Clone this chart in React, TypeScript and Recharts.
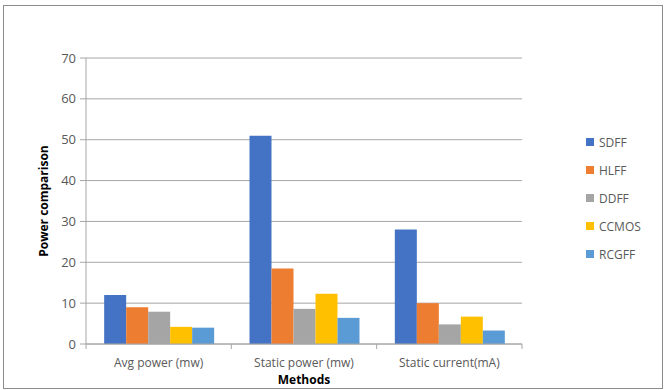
import React from 'react';
import { BarChart, Bar, XAxis, YAxis, CartesianGrid, Label } from 'recharts';

const methods = ['Avg power (mw)', 'Static power (mw)', 'Static current(mA)'];
const sdff = [12, 51, 28];
const hlff = [9, 18.5, 10];
const ddff = [7.9, 8.6, 4.8];
const ccmos = [4.2, 12.3, 6.7];
const rcgff = [4, 6.4, 3.3];
const yTicks = [0, 10, 20, 30, 40, 50, 60, 70];

const seriesList = [
  { key: 'SDFF', values: sdff, color: '#4472C4' },
  { key: 'HLFF', values: hlff, color: '#ED7D31' },
  { key: 'DDFF', values: ddff, color: '#A5A5A5' },
  { key: 'CCMOS', values: ccmos, color: '#FFC000' },
  { key: 'RCGFF', values: rcgff, color: '#5B9BD5' },
];

const data = methods.map((m, i) => {
  const row: any = { name: m };
  seriesList.forEach(s => { row[s.key] = s.values[i]; });
  return row;
});

const FONT = '"Open Sans", "Noto Sans", sans-serif';
const TEXT = '#595959';
const AXIS = '#a6a6a6';

const W = 667;
const H = 390;
const M = { top: 58, right: 145, left: 46, bottom: 16 };
const BAND = (W - M.left - 40 - M.right) / methods.length;

// Excel style: tick marks sit between the categories, not at their centres
function CategoryTick(props: any) {
  const { x, y, payload, index } = props;
  return (
    <g>
      <line x1={x - BAND / 2} x2={x - BAND / 2} y1={y - 8} y2={y - 3} stroke={AXIS} />
      {index === methods.length - 1 && (
        <line x1={x + BAND / 2} x2={x + BAND / 2} y1={y - 8} y2={y - 3} stroke={AXIS} />
      )}
      <text x={x} y={y + 15} textAnchor="middle" fill={TEXT} fontSize={12} fontFamily={FONT}>
        {payload.value}
      </text>
    </g>
  );
}

function SideLegend() {
  return (
    <div style={{ position: 'absolute', left: 586, top: 128, fontFamily: FONT, fontSize: 12, color: TEXT }}>
      {seriesList.map(s => (
        <div key={s.key} style={{ display: 'flex', alignItems: 'center', height: 28 }}>
          <span style={{ width: 8, height: 8, background: s.color, marginRight: 5, display: 'inline-block' }} />
          <span>{s.key}</span>
        </div>
      ))}
    </div>
  );
}

export default function App() {
  return (
    <div style={{ position: 'absolute', left: 0, top: 0, width: W, height: H, background: '#fff' }}>
      <div style={{ position: 'absolute', left: 3, top: 5, width: 658, height: 382, border: '1px solid #8c8c8c' }} />
      <BarChart
        width={W}
        height={H}
        data={data}
        margin={M}
        barCategoryGap="12.5%"
        barGap={0}
      >
        <CartesianGrid vertical={false} stroke={AXIS} />
        <XAxis
          dataKey="name"
          stroke={AXIS}
          tickLine={false}
          height={30}
          interval={0}
          tick={<CategoryTick />}
        >
          <Label
            value="Methods"
            position="insideBottom"
            offset={-10}
            style={{ fontFamily: FONT, fontSize: 12, fontWeight: 'bold', fill: '#000' }}
          />
        </XAxis>
        <YAxis
          width={40}
          domain={[0, 70]}
          ticks={yTicks}
          interval={0}
          stroke={AXIS}
          tickSize={6}
          tickMargin={4}
          tick={{ fill: TEXT, fontSize: 13, fontFamily: FONT }}
        >
          <Label
            value="Power comparison"
            angle={-90}
            position="insideLeft"
            offset={-2}
            style={{ fontFamily: FONT, fontSize: 12, fontWeight: 'bold', fill: '#000', textAnchor: 'middle' }}
          />
        </YAxis>
        {seriesList.map(s => (
          <Bar key={s.key} dataKey={s.key} fill={s.color} isAnimationActive={false} />
        ))}
      </BarChart>
      <SideLegend />
    </div>
  );
}
